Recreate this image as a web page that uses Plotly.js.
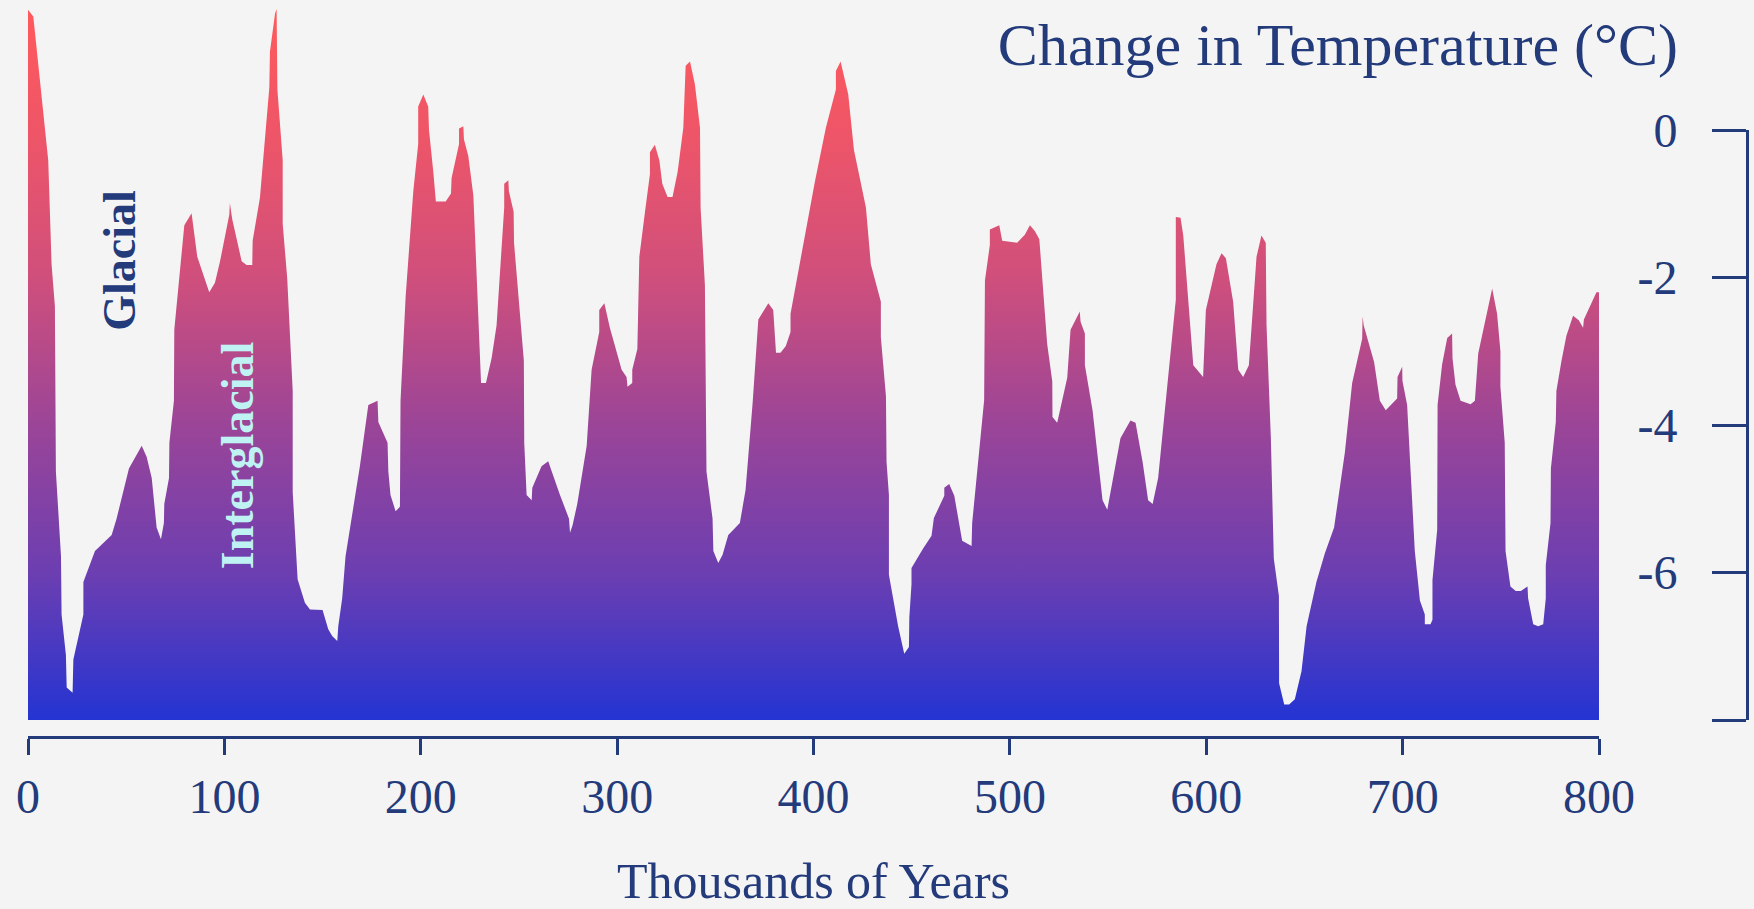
<!DOCTYPE html>
<html>
<head>
<meta charset="utf-8">
<script src="https://cdn.plot.ly/plotly-3.0.1.min.js"></script>
<style>
  html, body { margin: 0; padding: 0; background: #f4f4f4; }
  #chart { width: 1754px; height: 909px; }
  #err { position: absolute; left: 400px; top: 300px; font: 20px monospace; color: red; }
</style>
</head>
<body>
<div id="chart"></div>
<div id="err"></div>
<script>
// Thousands of years before present
const years = [
  0, 2.7, 10.3, 12.0, 13.7, 14.2, 16.8, 17.1, 19.3, 19.7, 22.7, 23.1, 28.2, 28.2, 34.1, 42.6, 45.1, 51.4, 57.9, 60.4,
  63.0, 65.5, 67.7, 69.2, 69.4, 71.8, 72.0, 74.3, 74.5, 76.9, 79.6, 83.3, 83.8, 86.2, 92.3, 95.2, 97.8, 102.5, 102.8, 104.0,
  108.8, 111.3, 114.2, 114.4, 118.1, 120.7, 122.9, 123.2, 125.8, 126.6, 127.0, 129.7, 129.7, 132.0, 134.8, 134.8, 137.3, 141.0, 143.6, 150.0,
  152.9, 154.9, 157.5, 158.0, 160.0, 161.7, 164.0, 169.0, 173.3, 178.0, 178.4, 183.1, 183.5, 184.6, 187.2, 189.4, 189.7, 192.3, 196.2, 198.7,
  198.7, 201.3, 203.8, 204.2, 206.4, 207.7, 212.7, 215.4, 215.7, 219.5, 219.5, 221.7, 222.0, 224.2, 226.8, 230.7, 233.2, 236.1, 238.6, 242.5,
  242.5, 244.6, 244.9, 247.3, 247.5, 250.0, 252.5, 252.7, 253.9, 256.5, 256.8, 261.5, 264.9, 270.9, 275.5, 276.0, 277.3, 279.7, 284.5, 287.0,
  290.9, 290.9, 293.5, 296.3, 302.3, 304.8, 305.3, 307.7, 307.7, 310.3, 311.3, 314.2, 316.7, 316.7, 319.2, 321.5, 323.0, 325.7, 328.2, 330.8,
  333.7, 334.9, 337.1, 339.6, 342.2, 342.5, 344.7, 345.5, 348.6, 349.0, 351.5, 353.7, 356.6, 362.5, 365.4, 369.0, 371.9, 377.0, 379.5, 380.9,
  383.2, 385.9, 388.3, 388.3, 397.3, 400.7, 406.3, 411.4, 411.4, 413.8, 417.7, 420.6, 426.7, 429.2, 434.3, 434.3, 436.9, 437.2, 438.4, 438.4,
  443.1, 446.2, 448.6, 448.8, 449.9, 449.9, 455.9, 460.1, 461.3, 466.6, 466.6, 469.1, 471.7, 475.7, 480.5, 480.8, 486.9, 487.3, 489.8, 489.8,
  494.6, 496.1, 503.7, 507.6, 510.2, 512.7, 515.0, 519.0, 521.6, 521.7, 524.1, 529.2, 530.9, 535.6, 536.0, 538.2, 538.2, 542.1, 547.2, 549.6,
  556.3, 561.4, 564.0, 567.6, 570.4, 572.7, 575.5, 579.4, 584.5, 584.5, 586.9, 588.3, 590.8, 593.4, 598.4, 599.8, 605.2, 607.8, 610.0, 613.7,
  616.3, 618.8, 621.7, 625.6, 628.1, 630.3, 630.7, 632.9, 634.4, 637.0, 637.1, 639.7, 642.2, 645.1, 648.5, 651.1, 656.1, 660.4, 665.1, 670.6,
  674.3, 679.4, 679.6, 680.2, 685.5, 688.4, 691.4, 697.2, 697.4, 699.8, 699.9, 702.3, 706.2, 708.8, 711.3, 711.3, 714.2, 715.2, 715.2, 717.6,
  717.8, 720.1, 722.7, 725.2, 725.4, 726.9, 729.5, 734.6, 736.8, 738.5, 745.6, 748.1, 749.8, 749.8, 752.0, 752.4, 754.9, 757.6, 760.2, 763.6,
  763.9, 766.5, 769.0, 771.6, 772.9, 772.9, 775.3, 775.5, 778.0, 778.3, 780.9, 783.4, 786.8, 789.7, 791.9, 792.3, 798.7, 800.0
];
// Change in temperature (°C)
const tempChange = [
  1.63, 1.54, -0.41, -1.82, -2.39, -4.63, -5.78, -6.57, -7.12, -7.56, -7.63, -7.18, -6.57, -6.13, -5.71, -5.49, -5.27, -4.59, -4.28, -4.43,
  -4.72, -5.39, -5.55, -5.33, -5.07, -4.72, -4.24, -3.67, -2.71, -2.01, -1.29, -1.13, -1.24, -1.72, -2.20, -2.07, -1.78, -1.15, -0.99, -1.21,
  -1.78, -1.83, -1.83, -1.50, -0.92, -0.16, 0.58, 1.06, 1.58, 1.64, 0.55, -0.41, -1.27, -2.01, -3.54, -4.91, -6.09, -6.41, -6.50, -6.51,
  -6.77, -6.86, -6.93, -6.73, -6.35, -5.78, -5.39, -4.56, -3.73, -3.67, -3.96, -4.24, -4.63, -4.95, -5.17, -5.11, -3.67, -2.26, -0.83, -0.19,
  0.32, 0.48, 0.32, 0.00, -0.57, -0.97, -0.97, -0.86, -0.65, -0.19, 0.02, 0.05, -0.13, -0.35, -0.89, -3.43, -3.43, -3.09, -2.65, -1.05,
  -0.73, -0.68, -0.83, -1.11, -1.53, -2.39, -3.13, -4.24, -4.95, -5.02, -4.85, -4.56, -4.49, -4.95, -5.27, -5.46, -5.36, -5.07, -4.28, -3.25,
  -2.74, -2.44, -2.35, -2.68, -3.25, -3.35, -3.48, -3.43, -3.25, -2.97, -1.72, -1.11, -0.60, -0.30, -0.20, -0.41, -0.73, -0.91, -0.91, -0.57,
  0.03, 0.87, 0.93, 0.62, 0.03, -1.05, -2.10, -4.63, -5.27, -5.71, -5.87, -5.76, -5.49, -5.33, -4.88, -3.70, -2.57, -2.35, -2.44, -3.02,
  -3.02, -2.93, -2.74, -2.49, -1.18, -0.70, 0.03, 0.55, 0.80, 0.93, 0.48, -0.27, -1.05, -1.82, -2.33, -2.81, -3.61, -4.50, -4.95, -6.03,
  -6.73, -7.10, -7.01, -6.61, -6.16, -5.94, -5.67, -5.50, -5.26, -4.96, -4.85, -4.80, -4.96, -5.57, -5.64, -5.33, -3.66, -2.04, -1.56, -1.35,
  -1.29, -1.50, -1.53, -1.42, -1.29, -1.37, -1.48, -2.90, -3.41, -3.89, -3.97, -3.36, -2.71, -2.46, -2.60, -2.76, -3.19, -3.80, -5.02, -5.15,
  -4.18, -3.94, -3.97, -4.50, -5.02, -5.07, -4.72, -3.67, -2.30, -1.18, -1.19, -1.43, -2.33, -3.19, -3.35, -2.44, -1.82, -1.67, -1.74, -2.33,
  -3.25, -3.35, -3.19, -1.72, -1.43, -1.53, -2.65, -4.18, -5.81, -6.32, -7.50, -7.79, -7.79, -7.72, -7.34, -6.73, -6.13, -5.74, -5.39, -4.37,
  -3.43, -2.83, -2.53, -2.65, -3.15, -3.67, -3.80, -3.64, -3.35, -3.21, -3.40, -3.73, -5.71, -6.38, -6.57, -6.70, -6.70, -6.64, -6.10, -5.42,
  -3.73, -3.18, -2.82, -2.76, -3.09, -3.45, -3.67, -3.72, -3.67, -3.03, -2.15, -2.49, -3.00, -3.48, -4.24, -5.71, -6.19, -6.25, -6.25, -6.19,
  -6.35, -6.70, -6.73, -6.70, -6.35, -5.90, -5.33, -4.59, -3.96, -3.54, -3.13, -2.79, -2.52, -2.58, -2.68, -2.57, -2.20, -2.20
];
const baseTemp = -8;   // bottom of the record / fill baseline
const xTickVals = [0, 100, 200, 300, 400, 500, 600, 700, 800];
const xTickText = ['0', '100', '200', '300', '400', '500', '600', '700', '800'];
const yTickVals = [0, -2, -4, -6, -8];
const yTickText = ['0', '-2', '-4', '-6', ''];

const navy = '#233a7b';
const W = 1754, H = 909;
const mL = 28, mR = 7, mT = 0, mB = 173;
const plotW = W - mL - mR, plotH = H - mT - mB;
const xDomEnd = (1599 - mL) / plotW;
const pxPerUnit = 590 / 8;
const yHi = (130 - mT) / pxPerUnit;
const yLo = -(plotH - (130 - mT)) / pxPerUnit;
const dom2 = [(baseTemp - yLo) / (yHi - yLo), (0 - yLo) / (yHi - yLo)];

// closed area: the record, then back along the baseline
const areaX = years.concat([years[years.length - 1], years[0]]);
const areaY = tempChange.concat([baseTemp, baseTemp]);

const traces = [
  {
    x: areaX, y: areaY, mode: 'lines', line: { width: 0, color: 'rgba(0,0,0,0)' },
    fill: 'toself', fillcolor: '#9a4596', showlegend: false, hoverinfo: 'skip',
    fillgradient: {
      type: 'vertical',
      colorscale: [
        [0, '#2434d2'], [0.2, '#6a3eb2'], [0.42, '#9c4597'],
        [0.62, '#cf4f7c'], [0.82, '#ee5568'], [1, '#ff5a5c']
      ]
    }
  },
  { x: [], y: [], yaxis: 'y2', mode: 'none', showlegend: false }
];

const serif = '"Liberation Serif", "Times New Roman", serif';
const layout = {
  width: W, height: H,
  margin: { l: mL, r: mR, t: mT, b: mB },
  paper_bgcolor: '#f4f4f4',
  plot_bgcolor: 'rgba(0,0,0,0)',
  showlegend: false,
  font: { family: serif, color: navy },
  title: {
    text: 'Change in Temperature (°C)',
    font: { family: serif, size: 60, color: navy },
    x: 1678 / W, xanchor: 'right', xref: 'container',
    y: 1 - 44 / H, yanchor: 'middle', yref: 'container'
  },
  xaxis: {
    domain: [0, xDomEnd], range: [0, 800], anchor: 'y',
    showgrid: false, zeroline: false,
    showline: true, linecolor: navy, linewidth: 3,
    ticks: 'outside', ticklen: 16, tickwidth: 3, tickcolor: navy,
    tickvals: xTickVals, ticktext: xTickText,
    tickfont: { family: serif, size: 48, color: navy },
    ticklabelstandoff: 0,
    title: { text: 'Thousands of Years', font: { family: serif, size: 50, color: navy }, standoff: 42 }
  },
  yaxis: {
    domain: [0, 1], range: [yLo, yHi], visible: false, showgrid: false, zeroline: false
  },
  yaxis2: {
    domain: dom2, range: [baseTemp, 0], anchor: 'free', position: 1, side: 'left',
    showgrid: false, zeroline: false,
    showline: true, linecolor: navy, linewidth: 3,
    ticks: 'outside', ticklen: 34, tickwidth: 3, tickcolor: navy,
    tickvals: yTickVals, ticktext: yTickText,
    tickfont: { family: serif, size: 48, color: navy },
    ticklabelstandoff: 25
  },
  annotations: [
    { text: '<b>Glacial</b>', x: 46.8, y: -1.76, xref: 'x', yref: 'y', showarrow: false,
      textangle: -90, font: { family: serif, size: 46, color: navy } },
    { text: '<b>Interglacial</b>', x: 106.4, y: -4.41, xref: 'x', yref: 'y', showarrow: false,
      textangle: -90, font: { family: serif, size: 46, color: '#bff2f2' } }
  ]
};

try {
  Plotly.newPlot('chart', traces, layout, { displayModeBar: false, staticPlot: true })
    .catch(e => { document.getElementById('err').textContent = 'ERR ' + e; });
} catch (e) {
  document.getElementById('err').textContent = 'ERR ' + e;
}
</script>
</body>
</html>
